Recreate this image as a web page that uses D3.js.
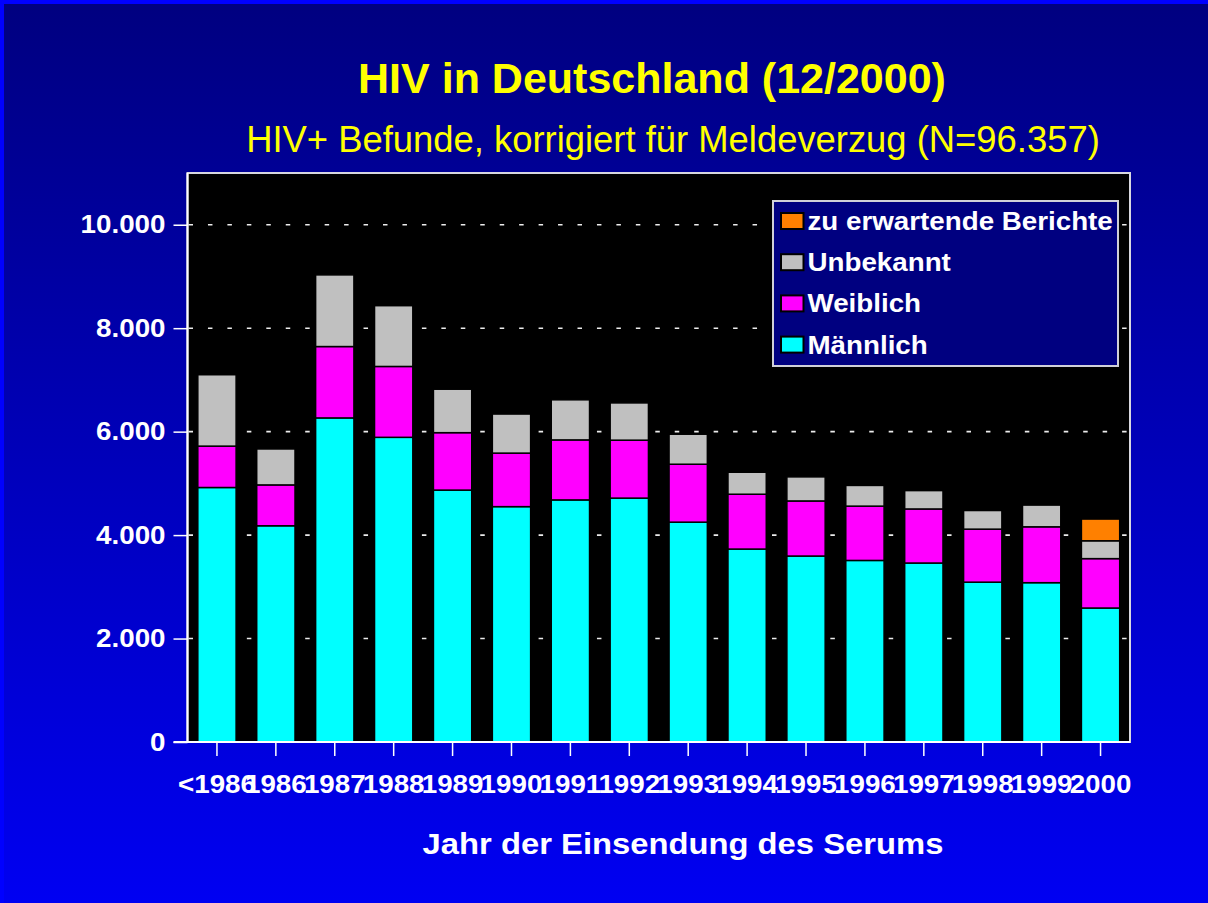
<!DOCTYPE html>
<html>
<head>
<meta charset="utf-8">
<script src="https://cdnjs.cloudflare.com/ajax/libs/d3/7.8.5/d3.min.js"></script>
<style>
body { margin: 0; background: #0000ff; }
svg { display: block; font-family: "Liberation Sans", Arial, sans-serif; }
</style>
</head>
<body>
<script>
// values (corrected for reporting delay)
var years = ['<1986', '1986', '1987', '1988', '1989', '1990', '1991', '1992',
             '1993', '1994', '1995', '1996', '1997', '1998', '1999', '2000'];
var maennlich = [4920, 4180, 6265, 5890, 4870, 4550, 4680, 4715, 4250, 3730, 3595, 3510, 3460, 3090, 3080, 2590];
var weiblich  = [800, 790, 1380, 1370, 1110, 1035, 1160, 1120, 1120, 1060, 1065, 1050, 1045, 1025, 1080, 955];
var unbekannt = [1380, 695, 1385, 1175, 840, 755, 775, 720, 580, 425, 465, 400, 355, 360, 420, 345];
var erwartet  = [0, 0, 0, 0, 0, 0, 0, 0, 0, 0, 0, 0, 0, 0, 0, 420];
var yTicks = [0, 2000, 4000, 6000, 8000, 10000];

var seriesKeys = ['m', 'w', 'u', 'e'];
var seriesNames = ['Männlich', 'Weiblich', 'Unbekannt', 'zu erwartende Berichte'];
var seriesColors = ['#00ffff', '#ff00ff', '#c0c0c0', '#ff8000'];

var W = 1208, H = 903;
var plot = {left: 187.5, right: 1130, top: 173, bottom: 742};
var sx = 1.11; // chart text on the slide is a bit stretched sideways

var de = d3.formatLocale({decimal: ',', thousands: '.', grouping: [3], currency: ['', '']});
var fmt = de.format(',');

var svg = d3.select('body').append('svg').attr('width', W).attr('height', H);

var grad = svg.append('defs').append('linearGradient')
    .attr('id', 'bg').attr('x1', 0).attr('y1', 0).attr('x2', 0).attr('y2', 1);
grad.append('stop').attr('offset', '0%').attr('stop-color', '#000080');
grad.append('stop').attr('offset', '100%').attr('stop-color', '#0000f2');

svg.append('rect').attr('width', W).attr('height', H).attr('fill', '#0000ff');
svg.append('rect').attr('x', 4).attr('y', 4).attr('width', W - 4).attr('height', H - 4).attr('fill', 'url(#bg)');

// titles
svg.append('text').attr('x', 652).attr('y', 93)
    .attr('text-anchor', 'middle').attr('fill', '#ffff00')
    .attr('font-size', 43).attr('font-weight', 'bold')
    .text('HIV in Deutschland (12/2000)');
svg.append('text').attr('x', 673).attr('y', 152)
    .attr('text-anchor', 'middle').attr('fill', '#ffff00')
    .attr('font-size', 36.4)
    .text('HIV+ Befunde, korrigiert für Meldeverzug (N=96.357)');

var x = d3.scaleBand().domain(years).range([plot.left, plot.right])
    .paddingInner(0.35).paddingOuter(0.175);
var y = d3.scaleLinear().domain([0, 11000]).range([plot.bottom, plot.top]);

svg.append('rect')
    .attr('x', plot.left).attr('y', plot.top)
    .attr('width', plot.right - plot.left).attr('height', plot.bottom - plot.top)
    .attr('fill', '#000').attr('stroke', '#d8d8e0').attr('stroke-width', 2);

// dashed grid
svg.append('g').selectAll('line').data(yTicks.slice(1)).enter().append('line')
    .attr('x1', plot.left + 1).attr('x2', plot.right - 1)
    .attr('y1', function(d) { return y(d); }).attr('y2', function(d) { return y(d); })
    .attr('stroke', '#ececec').attr('stroke-width', 1.6)
    .attr('stroke-dasharray', '4.5 14.95');

var rows = years.map(function(yr, i) {
    return {year: yr, m: maennlich[i], w: weiblich[i], u: unbekannt[i], e: erwartet[i]};
});
var stacked = d3.stack().keys(seriesKeys)(rows);

svg.append('g').selectAll('g').data(stacked).enter().append('g')
    .attr('fill', function(d, i) { return seriesColors[i]; })
    .selectAll('rect').data(function(d) { return d.filter(function(p) { return p[1] > p[0]; }); })
    .enter().append('rect')
    .attr('x', function(d) { return x(d.data.year); })
    .attr('width', x.bandwidth())
    .attr('y', function(d) { return y(d[1]); })
    .attr('height', function(d) { return y(d[0]) - y(d[1]); })
    .attr('stroke', '#000').attr('stroke-width', 1.5);

// axes
var yAxis = svg.append('g').attr('transform', 'translate(' + plot.left + ',0)')
    .call(d3.axisLeft(y).tickValues(yTicks).tickFormat(fmt).tickSize(14).tickSizeOuter(0));
var xAxis = svg.append('g').attr('transform', 'translate(0,' + plot.bottom + ')')
    .call(d3.axisBottom(x).tickSize(14).tickSizeOuter(0));

[yAxis, xAxis].forEach(function(ax) {
    ax.select('.domain').attr('stroke', '#fff').attr('stroke-width', 2);
    ax.selectAll('.tick line').attr('stroke', '#fff').attr('stroke-width', 1.5);
    ax.selectAll('.tick text').attr('fill', '#fff')
        .attr('font-family', '"Liberation Sans", Arial, sans-serif')
        .attr('font-size', 25).attr('font-weight', 'bold');
});
yAxis.select('.domain').attr('d', 'M0,' + plot.top + 'V' + plot.bottom);
yAxis.selectAll('.tick text').attr('x', -22 / sx).attr('transform', 'scale(' + sx + ',1)');
xAxis.select('.domain').attr('d', 'M' + (plot.left - 14) + ',0H' + plot.right);
xAxis.selectAll('.tick text').attr('y', 33).attr('transform', 'scale(' + sx + ',1)');

svg.append('text')
    .attr('transform', 'translate(683,854) scale(1.13,1)')
    .attr('text-anchor', 'middle').attr('fill', '#fff')
    .attr('font-size', 29).attr('font-weight', 'bold')
    .text('Jahr der Einsendung des Serums');

// legend, top entry is the last stack layer
var legend = svg.append('g');
legend.append('rect').attr('x', 773).attr('y', 201).attr('width', 345).attr('height', 165)
    .attr('fill', '#000080').attr('stroke', '#d0d0d8').attr('stroke-width', 2);
var items = legend.selectAll('g.item').data(d3.range(4).reverse()).enter().append('g')
    .attr('class', 'item')
    .attr('transform', function(d, i) { return 'translate(781,' + (221 + i * 41.2) + ')'; });
items.append('rect').attr('x', 0).attr('y', -8).attr('width', 22.5).attr('height', 16)
    .attr('fill', function(d) { return seriesColors[d]; })
    .attr('stroke', '#000').attr('stroke-width', 2);
items.append('text').attr('transform', 'translate(26.5,0) scale(' + sx + ',1)')
    .attr('dy', '0.36em').attr('fill', '#fff')
    .attr('font-size', 25).attr('font-weight', 'bold')
    .text(function(d) { return seriesNames[d]; });
</script>
</body>
</html>
